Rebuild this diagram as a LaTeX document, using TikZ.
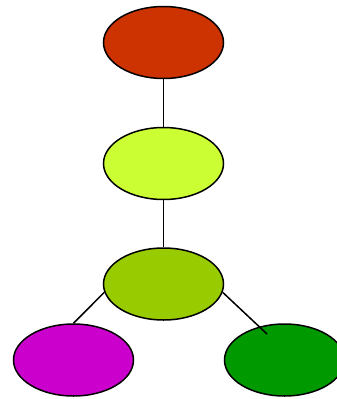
\documentclass[tikz,border=0pt]{standalone}
\usepackage{tikz}
\usetikzlibrary{shapes.geometric,positioning}

\definecolor{rootred}{HTML}{CC3300}
\definecolor{limeyellow}{HTML}{CCFF33}
\definecolor{olivegreen}{HTML}{99CC00}
\definecolor{leafmagenta}{HTML}{CC00CC}
\definecolor{leafgreen}{HTML}{009900}

\begin{document}
\begin{tikzpicture}[x=1pt,y=1pt,
    blob/.style={ellipse,draw=black,line width=1.5pt,inner sep=0pt,
      minimum width=120pt,minimum height=72pt},
    link/.style={draw=black,line width=1.5pt}]

    \useasboundingbox (0,0) rectangle (337,-399);
    \clip (0,0) rectangle (337,-399);

    \node[blob,fill=rootred] (Root) at (163.5,-42.5) {};
    \node[blob,fill=limeyellow] (Mid) at (163.5,-163.5) {};
    \node[blob,fill=olivegreen] (Hub) at (163.5,-284) {};
    \node[blob,fill=leafmagenta] (LeafL) at (73.5,-360) {};
    \node[blob,fill=leafgreen] (LeafR) at (284.5,-360) {};

    \coordinate (tipR) at (267,-334);

    \draw[link] (Root.south) -- (Mid.north);
    \draw[link] (Mid.south) -- (Hub.north);
    \draw[link] (Hub.188) -- (LeafL.north);
    \draw[link] (Hub.-8) -- (tipR);
\end{tikzpicture}
\end{document}
